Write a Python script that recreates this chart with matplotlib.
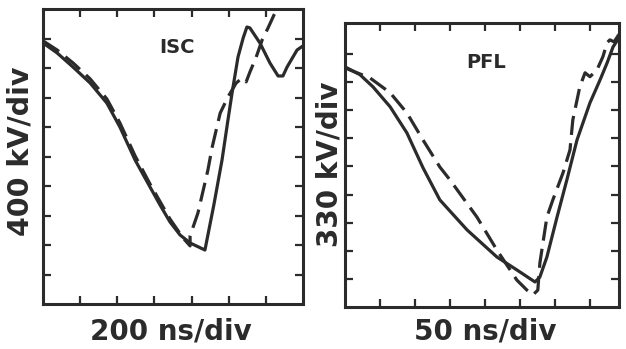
import matplotlib.pyplot as plt

# values, in divisions
isc_t_solid = [0.00, 0.38, 0.81, 1.27, 1.72, 2.07, 2.48, 2.88, 3.15, 3.42, 3.69, 3.96, 4.36,
               4.60, 4.82, 4.98, 5.09, 5.25, 5.39, 5.49, 5.57, 5.84, 6.11, 6.33, 6.46, 6.57, 6.84, 7.00]
isc_v_solid = [8.85, 8.51, 8.03, 7.49, 6.81, 6.00, 4.88, 3.97, 3.36, 2.78, 2.34, 2.07, 1.83,
               3.36, 4.88, 6.24, 7.15, 8.37, 9.02, 9.39, 9.36, 8.85, 8.17, 7.73, 7.73, 8.03, 8.61, 8.75]

isc_t_dash = [0.00, 0.38, 0.81, 1.27, 1.72, 2.07, 2.48, 2.88, 3.42, 3.77, 3.96, 3.96, 4.17,
              4.44, 4.55, 4.77, 4.98, 5.20, 5.36, 5.47, 5.57, 5.74, 5.90, 6.06, 6.22, 6.44]
isc_v_dash = [8.92, 8.61, 8.17, 7.63, 6.95, 6.14, 5.02, 4.07, 2.88, 2.24, 1.97, 2.31, 3.08,
              4.54, 5.29, 6.47, 7.02, 7.49, 7.66, 7.53, 7.86, 8.37, 8.95, 9.36, 9.80, 10.31]

pfl_t_solid = [0.00, 0.43, 0.80, 1.29, 1.77, 2.23, 2.71, 3.49, 4.34, 4.91, 5.43, 5.57, 5.77,
               6.06, 6.34, 6.63, 7.00, 7.29, 7.49, 7.66, 7.83]
pfl_v_solid = [8.54, 8.26, 7.83, 7.12, 6.19, 4.95, 3.81, 2.74, 1.78, 1.32, 0.89, 1.07, 1.78,
               3.20, 4.52, 5.94, 7.26, 8.08, 8.68, 9.25, 9.57]

pfl_t_dash = [0.00, 0.14, 0.71, 1.29, 1.77, 2.23, 2.71, 3.00, 3.77, 4.34, 4.91, 5.20, 5.37,
              5.51, 5.57, 5.77, 5.94, 6.23, 6.43, 6.51, 6.71, 6.86, 7.00, 7.20, 7.37, 7.49,
              7.57, 7.69, 7.80, 7.89]
pfl_v_dash = [8.51, 8.43, 8.15, 7.62, 6.90, 5.94, 4.98, 4.52, 3.20, 2.03, 0.96, 0.60, 0.43,
              0.60, 1.57, 3.20, 3.81, 4.77, 5.59, 6.65, 7.83, 8.33, 8.19, 8.43, 8.90, 9.40,
              9.50, 9.43, 9.64, 9.79]

ink = '#2b2b2b'
font = 'DejaVu Sans'

fig = plt.figure(figsize=(6.26, 3.49), dpi=100)
fig.patch.set_facecolor('white')

ax1 = fig.add_axes([0.0687, 0.1289, 0.4153, 0.8453])
ax2 = fig.add_axes([0.5511, 0.1203, 0.4377, 0.8138])


def styleScope(ax, xmax, ymax, nx, ny):
    """Frame, inward ticks on all sides, no labels."""
    ax.set_xlim(0, xmax)
    ax.set_ylim(0, ymax)
    ax.set_xticks(range(1, nx + 1))
    ax.set_yticks(range(1, ny + 1))
    ax.tick_params(direction='in', length=6, width=1.6, color=ink,
                   top=True, right=True, labelbottom=False, labelleft=False)
    for s in ax.spines.values():
        s.set_linewidth(2.2)
        s.set_color(ink)


styleScope(ax1, 7.0, 10.0, 6, 9)
styleScope(ax2, 7.83, 10.1, 7, 9)

kw = dict(color=ink, lw=2.3, solid_joinstyle='round', dash_capstyle='butt')
ax1.plot(isc_t_solid, isc_v_solid, **kw)
ax1.plot(isc_t_dash, isc_v_dash, dashes=(6, 2.6), **kw)
ax2.plot(pfl_t_solid, pfl_v_solid, **kw)
ax2.plot(pfl_t_dash, pfl_v_dash, dashes=(6, 2.6), **kw)

ax1.text(0.517, 0.871, 'ISC', transform=ax1.transAxes, ha='center', va='center',
         fontsize=14, fontweight='bold', color=ink, family=font)
ax2.text(0.516, 0.862, 'PFL', transform=ax2.transAxes, ha='center', va='center',
         fontsize=14, fontweight='bold', color=ink, family=font)

fig.text(21 / 626, 1 - 151 / 349, '400 kV/div', rotation=90, ha='center', va='center',
         fontsize=20.5, fontweight='bold', color=ink, family=font)
fig.text(330 / 626, 1 - 164 / 349, '330 kV/div', rotation=90, ha='center', va='center',
         fontsize=20, fontweight='bold', color=ink, family=font)
fig.text(171 / 626, 1 - 331 / 349, '200 ns/div', ha='center', va='center',
         fontsize=20, fontweight='bold', color=ink, family=font)
fig.text(485 / 626, 1 - 331 / 349, '50 ns/div', ha='center', va='center',
         fontsize=20, fontweight='bold', color=ink, family=font)

fig.savefig('out.png', dpi=100, facecolor='white')
